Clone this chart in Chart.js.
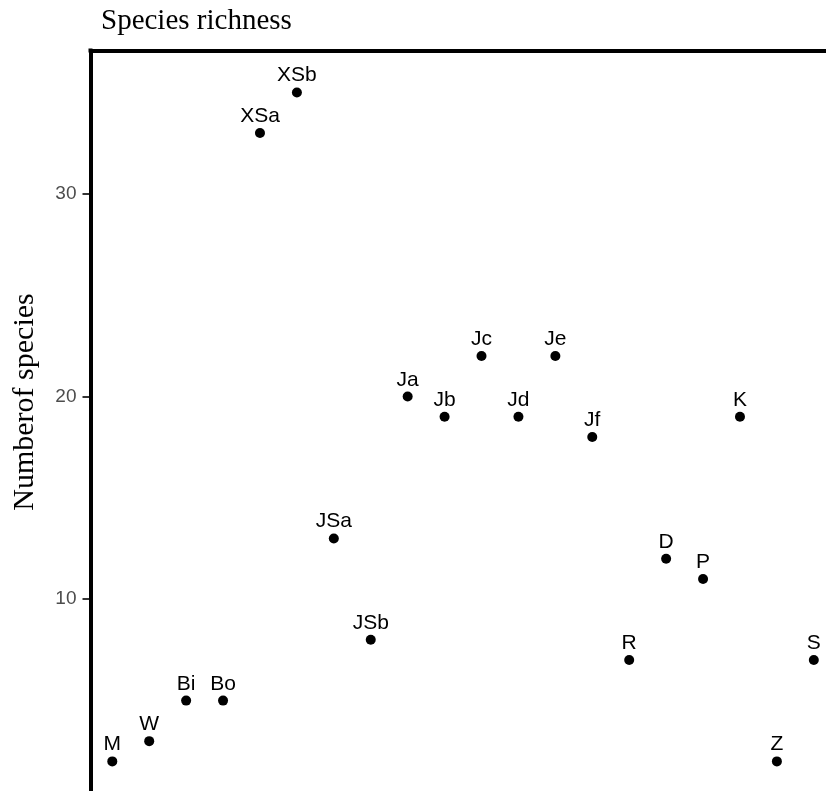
<!DOCTYPE html>
<html>
<head>
<meta charset="utf-8">
<script src="https://cdn.jsdelivr.net/npm/chart.js@4.4.0/dist/chart.umd.min.js"></script>
<style>
  html, body { margin: 0; padding: 0; background: #fff; overflow: hidden; }
  #wrap { width: 826px; height: 791px; position: relative; }
</style>
</head>
<body>
<div id="wrap"><canvas id="richness_chart"></canvas></div>
<script>
const sites = ['M', 'W', 'Bi', 'Bo', 'XSa', 'XSb', 'JSa', 'JSb', 'Ja', 'Jb', 'Jc', 'Jd', 'Je', 'Jf', 'R', 'D', 'P', 'K', 'Z', 'S'];
const richness = [2, 3, 5, 5, 33, 35, 13, 8, 20, 19, 22, 19, 22, 18, 7, 12, 11, 19, 2, 7];
const yTicks = [10, 20, 30];

// sites sit on a discrete axis, one slot each
let points = [];
for (let i = 0; i < sites.length; i++) {
  points.push({ x: i + 1, y: richness[i], label: sites[i] });
}

const pointLabels = {
  id: 'pointLabels',
  afterDatasetsDraw(chart) {
    const ctx = chart.ctx;
    const meta = chart.getDatasetMeta(0);
    ctx.save();
    ctx.font = '21px "Liberation Sans", Arial, sans-serif';
    ctx.fillStyle = '#000';
    ctx.textAlign = 'center';
    ctx.textBaseline = 'alphabetic';
    meta.data.forEach((pt, i) => {
      ctx.fillText(sites[i], pt.x, pt.y - 11);
    });
    ctx.restore();
  }
};

// title and y label sit where the original panel put them (the panel is cropped at the bottom)
const plotTexts = {
  id: 'plotTexts',
  afterDraw(chart) {
    const ctx = chart.ctx;
    ctx.save();
    ctx.fillStyle = '#000';
    ctx.textBaseline = 'alphabetic';
    ctx.font = '29px "Liberation Serif", "Times New Roman", serif';
    ctx.textAlign = 'left';
    ctx.fillText('Species richness', 101, 29);

    ctx.font = '30px "Liberation Serif", "Times New Roman", serif';
    ctx.textAlign = 'center';
    ctx.translate(33, 402);
    ctx.rotate(-Math.PI / 2);
    ctx.fillText('Numberof species', 0, 0);
    ctx.restore();

    // square off the top-left corner where the two axis lines meet
    const a = chart.chartArea;
    ctx.save();
    ctx.fillStyle = '#000';
    ctx.fillRect(a.left - 2, a.top - 2, 4, 4);
    ctx.restore();
  }
};

new Chart('richness_chart', {
  type: 'scatter',
  data: {
    datasets: [{
      data: points,
      pointRadius: 5,
      pointHoverRadius: 5,
      pointBorderWidth: 0,
      backgroundColor: '#000',
      borderColor: '#000',
      clip: false
    }]
  },
  options: {
    responsive: true,
    maintainAspectRatio: false,
    animation: false,
    layout: { autoPadding: false, padding: { top: 50.5, left: 0, right: 0, bottom: 0 } },
    plugins: {
      legend: { display: false },
      title: { display: false },
      tooltip: { enabled: false }
    },
    scales: {
      x: {
        type: 'linear',
        position: 'top',
        min: 0.41,
        max: 20.33,
        ticks: { display: false },
        grid: { display: false, drawTicks: false },
        border: { display: true, color: '#000', width: 4 },
        afterFit(scale) {
          scale.height = 0;
          scale.paddingLeft = 0;
          scale.paddingRight = 0;
        }
      },
      y: {
        type: 'linear',
        min: 0.54,
        max: 37.07,
        afterBuildTicks(scale) { scale.ticks = yTicks.map(v => ({ value: v })); },
        afterFit(scale) {
          scale.width = 90.5;
          scale.paddingTop = 0;
          scale.paddingBottom = 0;
        },
        ticks: {
          color: '#4d4d4d',
          padding: 6,
          font: { family: '"Liberation Sans", Arial, sans-serif', size: 19 }
        },
        grid: {
          drawOnChartArea: false,
          drawTicks: true,
          tickLength: 8,
          color: '#333',
          lineWidth: 2
        },
        border: { display: true, color: '#000', width: 4 }
      }
    }
  },
  plugins: [pointLabels, plotTexts]
});
</script>
</body>
</html>
